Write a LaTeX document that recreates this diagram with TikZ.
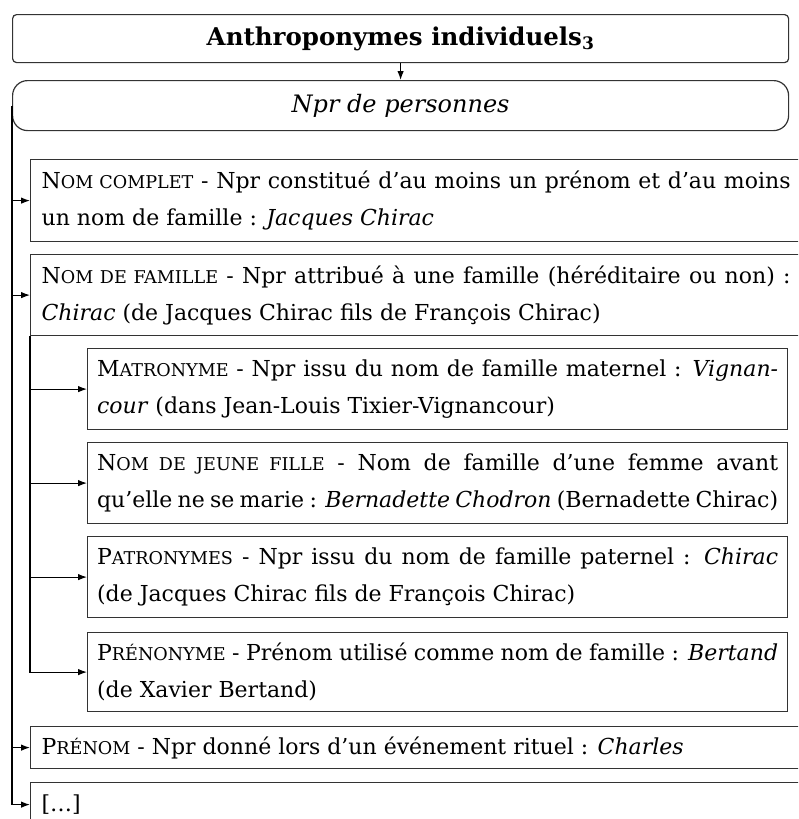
\documentclass[tikz,border=0pt]{standalone}
\usepackage{fontspec}
\setmainfont{DejaVu Serif}
\usetikzlibrary{arrows.meta}
\newcommand\fsc[2]{#1{\fontsize{17.6}{37}\selectfont #2}}
\begin{document}
\begin{tikzpicture}[x=1pt,y=-1pt,
  bx/.style={draw=black!80, line width=1.2pt, rectangle, inner ysep=0pt, inner xsep=11pt,
    anchor=north west, align=justify, font=\fontsize{22}{37}\selectfont},
  wide/.style={text width=749pt},
  narrow/.style={text width=681pt, inner xsep=9.5pt},
  two/.style={minimum height=82pt},
  arr/.style={-{Latex[length=9pt,width=6.5pt]}, line width=1.1pt, draw=black}]
\useasboundingbox (0,0) rectangle (798,819);
\clip (0,0) rectangle (798,819);

\node[draw=black!80, line width=1.2pt, rounded corners=4pt, minimum width=776pt, minimum height=48pt,
  anchor=north west, inner sep=0pt, font=\fontsize{24.5}{28}\selectfont\bfseries] (title) at (12,14)
  {Anthroponymes individuels\textsubscript{3}};
\node[draw=black!80, line width=1.2pt, rounded corners=15pt, minimum width=776pt, minimum height=50pt,
  anchor=north west, inner sep=0pt, font=\fontsize{24}{28}\selectfont\itshape] (pers) at (12,80)
  {Npr de personnes};

\node[bx, wide, two] (nc) at (30,159)
  {\fsc{N}{OM COMPLET} - Npr constitué d’au moins un prénom et d’au moins\linebreak
   un nom de famille : \textit{Jacques Chirac}};
\node[bx, wide, two, minimum height=81pt] (nf) at (30,254)
  {\fsc{N}{OM DE FAMILLE} - Npr attribué à une famille (héréditaire ou non) :\linebreak
   \textit{Chirac} (de Jacques Chirac fils de François Chirac)};
\node[bx, narrow, minimum height=81pt] (mat) at (87,348)
  {\fsc{M}{ATRONYME} - Npr issu du nom de famille maternel : \textit{Vignan-}\linebreak
   \textit{cour} (dans Jean-Louis Tixier-Vignancour)};
\node[bx, narrow, minimum height=81pt] (njf) at (87,442)
  {\fsc{N}{OM DE JEUNE FILLE} - Nom de famille d’une femme avant\linebreak
   qu’elle ne se marie : \textit{Bernadette Chodron} (Bernadette Chirac)};
\node[bx, narrow, minimum height=81pt] (pat) at (87,536)
  {\fsc{P}{ATRONYMES} - Npr issu du nom de famille paternel : \textit{Chirac}\linebreak
   (de Jacques Chirac fils de François Chirac)};
\node[bx, narrow, minimum height=79pt] (prn) at (87,632)
  {\fsc{P}{RÉNONYME} - Prénom utilisé comme nom de famille : \textit{Bertand}\linebreak
   (de Xavier Bertand)};
\node[bx, wide, minimum height=42pt] (pre) at (30,726)
  {\fsc{P}{RÉNOM} - Npr donné lors d’un événement rituel : \textit{Charles}};
\node[bx, wide, minimum height=44pt] (etc) at (30,782)
  {[…]};

\draw[arr] (title.south) -- (pers.north);
\draw[arr] (pers.west) |- (nc.west);
\draw[arr] (pers.west) |- (nf.west);
\draw[arr] (pers.west) |- (pre.west);
\draw[arr] (pers.west) |- (etc.west);
\draw[arr] (nf.south west) |- (mat.west);
\draw[arr] (nf.south west) |- (njf.west);
\draw[arr] (nf.south west) |- (pat.west);
\draw[arr] (nf.south west) |- (prn.west);
\end{tikzpicture}
\end{document}
